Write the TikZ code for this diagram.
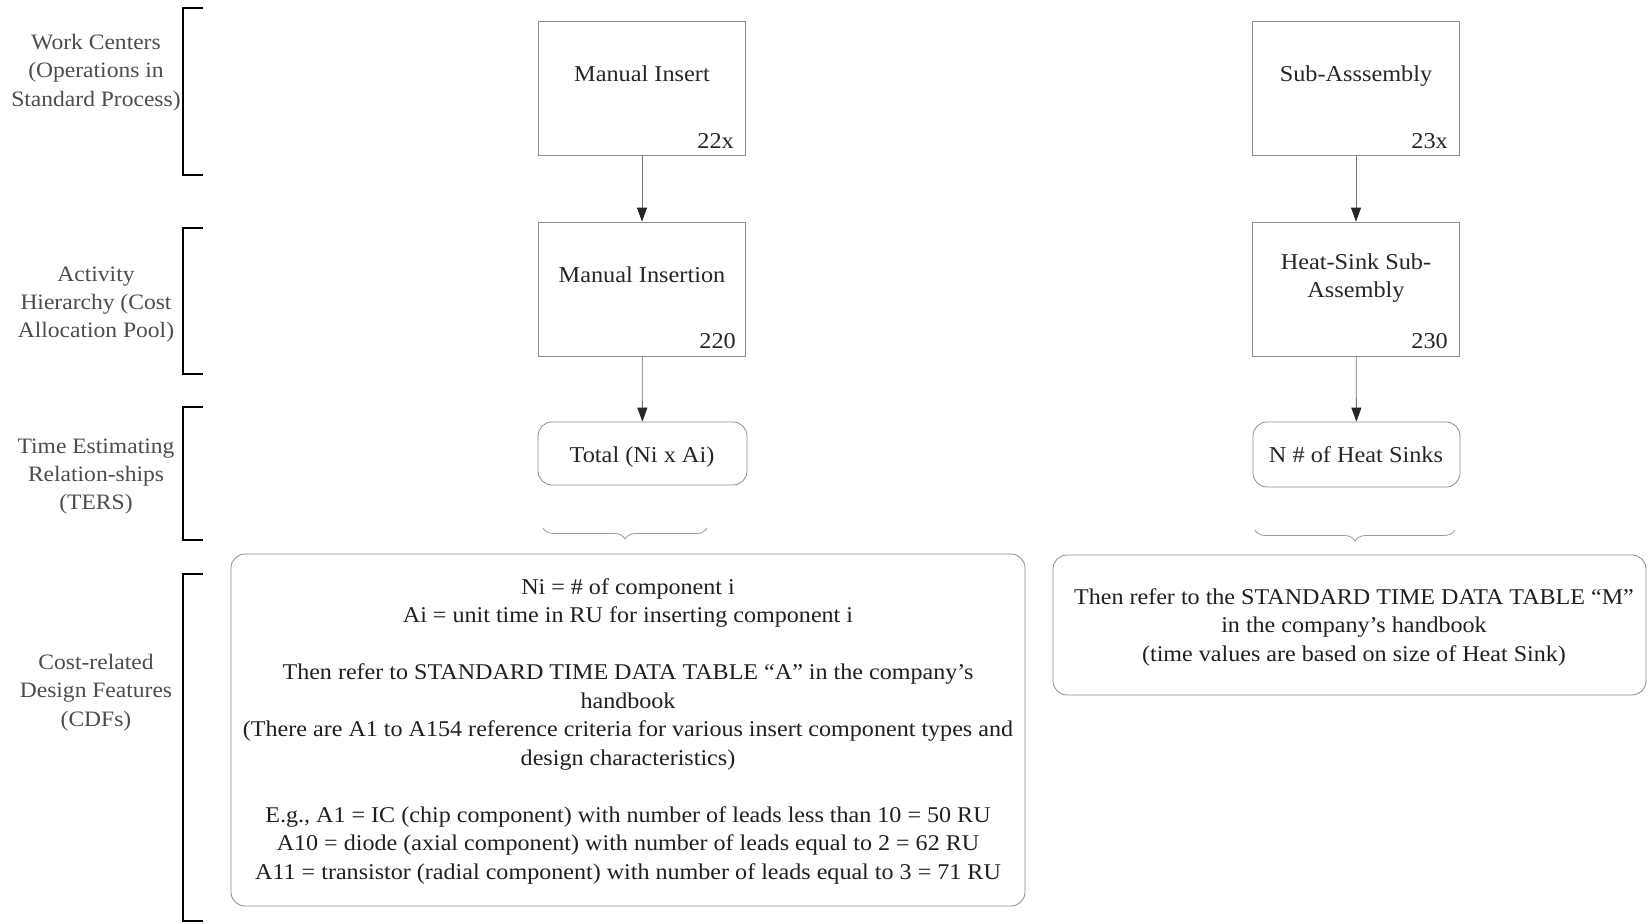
\documentclass[tikz,border=0pt]{standalone}
\usepackage{fontspec}
\setmainfont{Liberation Serif}[FakeStretch=1.07]
\usetikzlibrary{arrows.meta,decorations.pathreplacing}
\begin{document}
\begin{tikzpicture}[x=1pt,y=-1pt,
  txt/.style={inner sep=0pt,text=black!85,font=\fontsize{22.7}{28}\selectfont},
  one/.style={txt,text height=0.72em,text depth=0.22em},
  side/.style={inner sep=0pt,align=center,text=black!70,font=\fontsize{22}{28.4}\selectfont},
  body/.style={inner sep=0pt,align=center,text=black!88,font=\fontsize{22.5}{28.5}\selectfont},
  sqbox/.style={draw=black!45,line width=0.8pt,minimum width=207pt,minimum height=134pt,inner sep=0pt},
  rbox/.style={draw=black!45,line width=0.8pt,rounded corners=14pt,inner sep=0pt},
  bracket/.style={draw=black,line width=2pt},
  arr/.style={draw=black!55,line width=0.8pt,-{Triangle[length=14pt,width=10pt,color=black!85]}},
  brc/.style={draw=black!40,line width=0.8pt,decorate,decoration={brace,amplitude=11pt,mirror}}]
\useasboundingbox (0,0) rectangle (1648,923);

% left-hand category brackets
\draw[bracket] (203,8) -- (183,8) -- (183,175) -- (203,175);
\draw[bracket] (203,228) -- (183,228) -- (183,374) -- (203,374);
\draw[bracket] (203,407) -- (183,407) -- (183,540) -- (203,540);
\draw[bracket] (203,574) -- (183,574) -- (183,921) -- (203,921);

\node[side] (lab1) at (96,72.5) {Work Centers\\(Operations in\\Standard Process)};
\node[side] (lab2) at (96,304.5) {Activity\\Hierarchy (Cost\\Allocation Pool)};
\node[side] (lab3) at (96,476.5) {Time Estimating\\Relation-ships\\(TERS)};
\node[side] (lab4) at (96,692.5) {Cost-related\\Design Features\\(CDFs)};

% left column: manual insertion
\node[sqbox] (mi) at (642,88.5) {};
\node[one] (mi-t) at (642,79.2) {Manual Insert};
\node[one,anchor=east] (mi-n) at (734,145.7) {22x};

\node[sqbox] (mins) at (642,289) {};
\node[one] (mins-t) at (642,280.2) {Manual Insertion};
\node[one,anchor=east] (mins-n) at (736,346.2) {220};

\node[rbox,minimum width=209pt,minimum height=63pt] (tot) at (642.5,453.5) {};
\node[one] (tot-t) at (642,460.2) {Total (Ni x Ai)};

% right column: heat-sink sub-assembly
\node[sqbox] (sa) at (1356,88.5) {};
\node[one] (sa-t) at (1356,79.2) {Sub-Asssembly};
\node[one,anchor=east] (sa-n) at (1448,145.7) {23x};

\node[sqbox] (hs) at (1356,289) {};
\node[txt,align=center,font=\fontsize{22.7}{28}\selectfont] (hs-t) at (1356,278) {Heat-Sink Sub-\\Assembly};
\node[one,anchor=east] (hs-n) at (1448,346.2) {230};

\node[rbox,minimum width=207pt,minimum height=65pt] (ns) at (1356.5,454.5) {};
\node[one] (ns-t) at (1356,460.2) {N \# of Heat Sinks};

% connectors
\draw[arr] (mi) -- (mins);
\draw[arr] (mins) -- (tot);
\draw[arr] (sa) -- (hs);
\draw[arr] (hs) -- (ns);

% cost-related design feature boxes
\node[rbox,minimum width=794pt,minimum height=352pt] (cdfA) at (628,730) {};
\node[body] (cdfA-t) at (628,731) {Ni = \# of component i\\
Ai = unit time in RU for inserting component i\\[28.5pt]
Then refer to STANDARD TIME DATA TABLE ``A'' in the company’s\\
handbook\\
(There are A1 to A154 reference criteria for various insert component types and\\
design characteristics)\\[28.5pt]
E.g., A1 = IC (chip component) with number of leads less than 10 = 50 RU\\
A10 = diode (axial component) with number of leads equal to 2 = 62 RU\\
A11 = transistor (radial component) with number of leads equal to 3 = 71 RU};

\node[rbox,minimum width=593pt,minimum height=140pt] (cdfM) at (1349.5,625) {};
\node[body] (cdfM-t) at (1354,627) {Then refer to the STANDARD TIME DATA TABLE ``M''\\
in the company’s handbook\\
(time values are based on size of Heat Sink)};

% braces tying each relationship to its design features
\coordinate (brA1) at (543,528);
\coordinate (brA2) at (707,528);
\coordinate (brM1) at (1255,530);
\coordinate (brM2) at (1455,530);
\draw[brc] (brA1) -- (brA2);
\draw[brc] (brM1) -- (brM2);
\end{tikzpicture}
\end{document}
